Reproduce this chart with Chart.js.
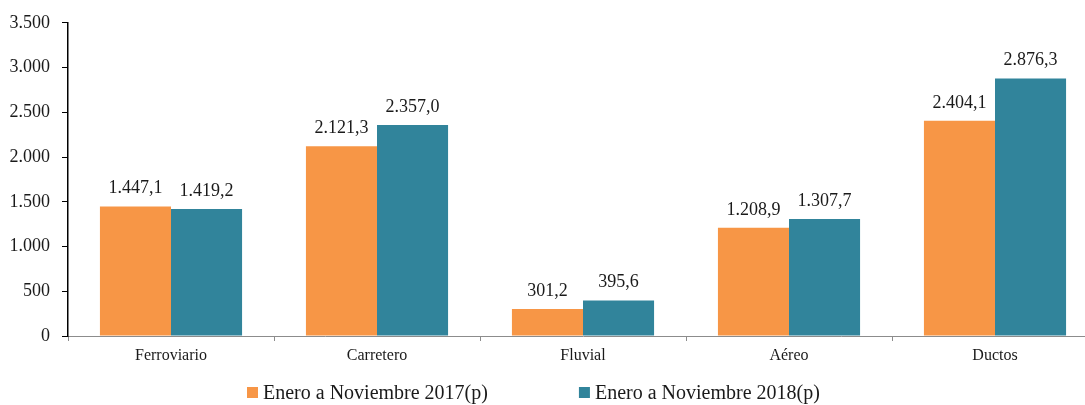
<!DOCTYPE html>
<html>
<head>
<meta charset="utf-8">
<script src="https://cdn.jsdelivr.net/npm/chart.js"></script>
<style>
  html, body { margin: 0; padding: 0; background: #fff; overflow: hidden; }
  #clip { width: 1085px; height: 405px; overflow: hidden; }
  #wrap { width: 1100px; height: 405px; position: relative; }
</style>
</head>
<body>
<div id="clip"><div id="wrap"><canvas id="chart"></canvas></div></div>
<script>
// ── Data
const categories = ['Ferroviario', 'Carretero', 'Fluvial', 'Aéreo', 'Ductos'];
const values2017 = [1447.1, 2121.3, 301.2, 1208.9, 2404.1];
const values2018 = [1419.2, 2357.0, 395.6, 1307.7, 2876.3];
const seriesLabels = ['Enero a Noviembre 2017(p)', 'Enero a Noviembre 2018(p)'];
const yTicks = [0, 500, 1000, 1500, 2000, 2500, 3000, 3500];

const COLORS = { orange: '#F79646', teal: '#31849B', text: '#1a1a1a' };
const FONT = "'Liberation Serif', 'Times New Roman', serif";

// number formatting with dot thousands and comma decimals
function fmt(v, dec) {
  const parts = v.toFixed(dec).split('.');
  parts[0] = parts[0].replace(/\B(?=(\d{3})+(?!\d))/g, '.');
  return parts.join(',');
}

// ── value labels above bars
const valueLabels = {
  id: 'valueLabels',
  afterDatasetsDraw(chart) {
    const ctx = chart.ctx;
    ctx.save();
    ctx.font = '18px ' + FONT;
    ctx.fillStyle = COLORS.text;
    ctx.textAlign = 'center';
    ctx.textBaseline = 'bottom';
    chart.data.datasets.forEach((ds, i) => {
      chart.getDatasetMeta(i).data.forEach((bar, j) => {
        ctx.fillText(fmt(ds.data[j], 1), bar.x, bar.y - 9);
      });
    });
    ctx.restore();
  }
};

// ── legend drawn at the bottom
const bottomLegend = {
  id: 'bottomLegend',
  afterDraw(chart) {
    const ctx = chart.ctx;
    ctx.save();
    ctx.font = '20px ' + FONT;
    ctx.textBaseline = 'middle';
    const box = 11, gapText = 5, gapItem = 91;
    let x = 247;
    const y = 393;
    chart.data.datasets.forEach(ds => {
      ctx.fillStyle = ds.backgroundColor;
      ctx.fillRect(x, y - 6, box, box);
      ctx.fillStyle = COLORS.text;
      ctx.fillText(ds.label, x + box + gapText, y + 1);
      x += box + gapText + ctx.measureText(ds.label).width + gapItem;
    });
    ctx.restore();
  }
};

new Chart(document.getElementById('chart'), {
  type: 'bar',
  data: {
    labels: categories,
    datasets: [
      { label: seriesLabels[0], data: values2017, backgroundColor: COLORS.orange,
        categoryPercentage: 0.69, barPercentage: 1.0 },
      { label: seriesLabels[1], data: values2018, backgroundColor: COLORS.teal,
        categoryPercentage: 0.69, barPercentage: 1.0 }
    ]
  },
  options: {
    responsive: true,
    maintainAspectRatio: false,
    animation: false,
    layout: { padding: { top: 22, right: 2, bottom: 40, left: 0 } },
    plugins: {
      legend: { display: false },
      tooltip: { enabled: false }
    },
    scales: {
      x: {
        grid: { drawOnChartArea: false, color: '#8c8c8c', tickLength: 5, offset: true },
        border: { color: '#8c8c8c', width: 1 },
        ticks: { color: COLORS.text, font: { family: FONT, size: 16 }, padding: 5 },
        afterFit(s) { s.height = 29; }
      },
      y: {
        min: 0,
        max: 3500,
        afterBuildTicks(s) { s.ticks = yTicks.map(v => ({ value: v })); },
        grid: { drawOnChartArea: false, color: '#000', tickLength: 6 },
        border: { color: '#000', width: 1.5 },
        ticks: {
          color: COLORS.text,
          font: { family: FONT, size: 18 },
          padding: 12,
          callback: v => fmt(v, 0)
        },
        afterFit(s) { s.width = 68; }
      }
    }
  },
  plugins: [valueLabels, bottomLegend]
});
</script>
</body>
</html>
